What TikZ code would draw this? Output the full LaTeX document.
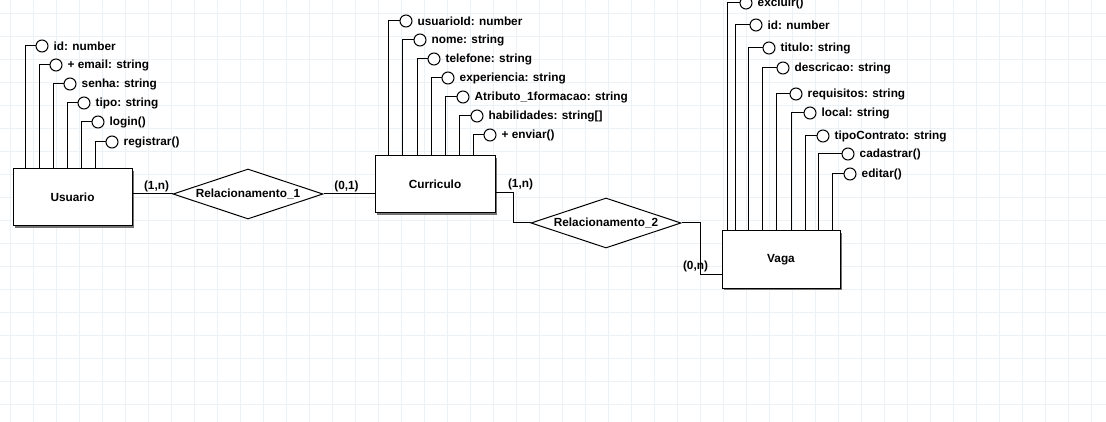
\documentclass[tikz,border=0pt]{standalone}
\usepackage{fontspec}
\setmainfont{Liberation Sans}
\usetikzlibrary{shapes.geometric, shadows}
\definecolor{gridc}{RGB}{236,241,246}
\tikzset{txt/.style={font=\bfseries\fontsize{11.8}{13}\selectfont, inner sep=1pt},
entity/.style={rectangle,draw,line width=1pt,fill=white,txt,minimum height=57pt,drop shadow={shadow xshift=2pt,shadow yshift=-2pt,fill=black!55,opacity=1}},
relation/.style={diamond,aspect=3.2,draw,line width=1pt,fill=white,txt,inner sep=0pt,minimum width=150pt,minimum height=50pt},
attr/.style={circle,draw,line width=1pt,fill=white,minimum size=12pt,inner sep=0pt,label={[txt,label distance=4pt]right:#1}},
card/.style={txt,inner sep=2pt},
link/.style={line width=1pt}}

\begin{document}
\begin{tikzpicture}[x=1pt,y=-1pt]
\useasboundingbox (0,0) rectangle (1106,422);
\clip (0,0) rectangle (1106,422);
\draw[gridc, line width=1pt, shift={(10.5,13.3)}] (-23,-23) grid[step=23pt] (1100,420);

% entidades
\node[entity, minimum width=119pt] (usr) at (72.5,197.5) {Usuario};
\node[entity, minimum width=120pt] (cur) at (435,184.5) {Curriculo};
\node[entity, minimum width=118pt] (vaga) at (781,259.5) {Vaga};

% relacionamentos
\node[relation] (r1) at (248,194) {Relacionamento\_1};
\node[relation] (r2) at (606,223) {Relacionamento\_2};

% atributos Usuario
\node[attr={id: number}] (u1) at (42,46) {};
\node[attr={+ email: string}] (u2) at (56,65) {};
\node[attr={senha: string}] (u3) at (70,84) {};
\node[attr={tipo: string}] (u4) at (84,103) {};
\node[attr={login()}] (u5) at (98,122) {};
\node[attr={registrar()}] (u6) at (112,142) {};
\draw[link] (u1.west) -| ([xshift=13pt]usr.north west);
\draw[link] (u2.west) -| ([xshift=27pt]usr.north west);
\draw[link] (u3.west) -| ([xshift=41pt]usr.north west);
\draw[link] (u4.west) -| ([xshift=55pt]usr.north west);
\draw[link] (u5.west) -| ([xshift=69pt]usr.north west);
\draw[link] (u6.west) -| ([xshift=83pt]usr.north west);

% atributos Curriculo
\node[attr={usuarioId: number}] (c1) at (406,21) {};
\node[attr={nome: string}] (c2) at (420,40) {};
\node[attr={telefone: string}] (c3) at (434,59) {};
\node[attr={experiencia: string}] (c4) at (448,78) {};
\node[attr={Atributo\_1formacao: string}] (c5) at (463,97) {};
\node[attr={habilidades: string[]}] (c6) at (477,116) {};
\node[attr={+ enviar()}] (c7) at (490,135) {};
\draw[link] (c1.west) -| ([xshift=14pt]cur.north west);
\draw[link] (c2.west) -| ([xshift=28pt]cur.north west);
\draw[link] (c3.west) -| ([xshift=43pt]cur.north west);
\draw[link] (c4.west) -| ([xshift=57pt]cur.north west);
\draw[link] (c5.west) -| ([xshift=71pt]cur.north west);
\draw[link] (c6.west) -| ([xshift=85pt]cur.north west);
\draw[link] (c7.west) -| ([xshift=99pt]cur.north west);

% atributos Vaga
\node[attr={excluir()}] (v1) at (746,3) {};
\node[attr={id: number}] (v2) at (756,25) {};
\node[attr={titulo: string}] (v3) at (769,48) {};
\node[attr={descricao: string}] (v4) at (783,68) {};
\node[attr={requisitos: string}] (v5) at (796,94) {};
\node[attr={local: string}] (v6) at (810,113) {};
\node[attr={tipoContrato: string}] (v7) at (823,136) {};
\node[attr={cadastrar()}] (v8) at (848,154) {};
\node[attr={editar()}] (v9) at (850,174) {};
\draw[link] (v1.west) -| ([xshift=6pt]vaga.north west);
\draw[link] (v2.west) -| ([xshift=14pt]vaga.north west);
\draw[link] (v3.west) -| ([xshift=27pt]vaga.north west);
\draw[link] (v4.west) -| ([xshift=41pt]vaga.north west);
\draw[link] (v5.west) -| ([xshift=55pt]vaga.north west);
\draw[link] (v6.west) -| ([xshift=70pt]vaga.north west);
\draw[link] (v7.west) -| ([xshift=84pt]vaga.north west);
\draw[link] (v8.west) -| ([xshift=97pt]vaga.north west);
\draw[link] (v9.west) -| ([xshift=111pt]vaga.north west);

% ligacoes
\draw[link] (usr.east |- r1.west) -- node[card, above, pos=0.6]{(1,n)} (r1.west);
\draw[link] (r1.east) -- node[card, above, pos=0.45]{(0,1)} (cur.west |- r1.east);
\draw[link] ([yshift=-8pt]cur.east) -- ++(18,0) node[card, above, xshift=7pt]{(1,n)} |- (r2.west);
\draw[link] (r2.east) -- ++(19,0) |- node[card, pos=0.5, anchor=south, xshift=-5pt]{(0,n)} ([yshift=-14.5pt]vaga.west);
\end{tikzpicture}
\end{document}
